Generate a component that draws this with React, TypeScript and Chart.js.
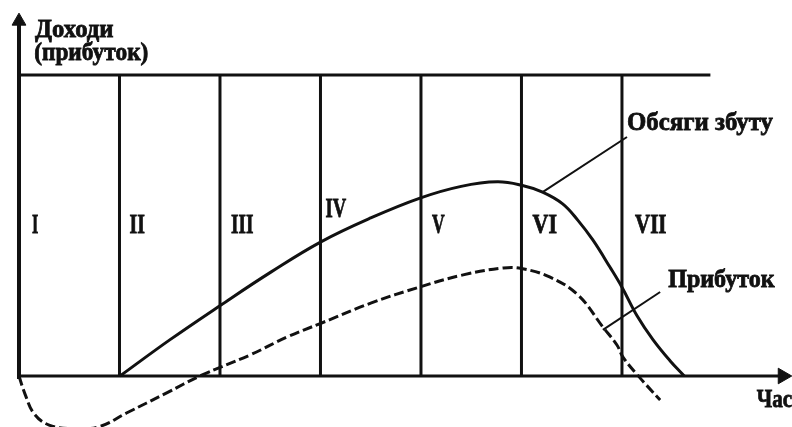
import React, { useEffect, useRef } from "react";
import { Chart, registerables } from "chart.js";

Chart.register(...registerables);

// ---- data (x in life-cycle periods, y in % of top level) ----
const periodBoundaries = [1, 2, 3, 4, 5, 6];
const periodLabels = ["I", "II", "III", "IV", "V", "VI", "VII"];

const salesX = [1.005, 1.5, 2.01, 2.51, 3.0, 3.5, 3.99, 4.4, 4.76, 5.01, 5.21, 5.41, 5.56, 5.71, 5.88, 6.0, 6.15, 6.31, 6.48, 6.62];
const salesY = [0, 12.0, 23.6, 34.6, 44.5, 52.5, 59.1, 63.0, 64.5, 63.3, 61.1, 57.2, 51.8, 45.2, 36.2, 29.5, 20.0, 12.0, 5.0, 0];

const profitX = [0, 0.06, 0.15, 0.3, 0.55, 0.8, 1.07, 1.47, 1.8, 2.3, 2.67, 3.01, 3.5, 3.99, 4.42, 4.82, 5.0, 5.28, 5.56, 5.81, 5.95, 6.01, 6.15, 6.38];
const profitY = [0, -6.0, -12.5, -16.3, -17.5, -16.8, -12.3, -5.6, 0, 7.0, 13.0, 17.6, 24.2, 29.6, 33.6, 35.9, 35.7, 32.9, 27.0, 16.3, 10.3, 6.3, 0.5, -8.0];

const topLevel = 100;
const topLineEnd = 6.88;
const xAxisEnd = 7.6;
const yAxisEnd = 117.9;

const salesLeaderX = [5.21, 6.05];
const salesLeaderY = [61.1, 79.4];
const profitLeaderX = [5.81, 6.38];
const profitLeaderY = [15.3, 27.9];

const yAxisTitle = ["Доходи", "(прибуток)"];
const salesLabel = "Обсяги збуту";
const profitLabel = "Прибуток";
const xAxisTitle = "Час";

// ---- annotation placement (data coords, left/baseline; width in px) ----
const numeralPlacement = [
  { x: 0.13, y: 47.5, w: 6 },
  { x: 1.1, y: 47.5, w: 15 },
  { x: 2.11, y: 47.5, w: 22 },
  { x: 3.05, y: 52.8, w: 21 },
  { x: 4.11, y: 47.5, w: 13 },
  { x: 5.11, y: 47.5, w: 24 },
  { x: 6.13, y: 47.5, w: 31 },
];

const INK = "#111111";

export default function App() {
  const ref = useRef<HTMLCanvasElement | null>(null);

  useEffect(() => {
    document.body.style.margin = "0";
    const canvas = ref.current;
    if (!canvas) return;

    const pts = (xs: number[], ys: number[]) => xs.map((v, i) => ({ x: v, y: ys[i] }));

    const lineDs = (data: any[], width: number, extra: any = {}) => ({
      data,
      showLine: true,
      borderColor: INK,
      borderWidth: width,
      pointRadius: 0,
      pointHoverRadius: 0,
      fill: false,
      tension: 0,
      borderCapStyle: "butt",
      ...extra,
    });

    const datasets: any[] = [];
    // y axis and x axis
    datasets.push(lineDs([{ x: 0, y: -1 }, { x: 0, y: yAxisEnd }], 4));
    datasets.push(lineDs([{ x: 0, y: 0 }, { x: xAxisEnd, y: 0 }], 3));
    // top line
    datasets.push(lineDs([{ x: 0, y: topLevel }, { x: topLineEnd, y: topLevel }], 3));
    // period boundaries
    periodBoundaries.forEach((b) => {
      datasets.push(lineDs([{ x: b, y: 0 }, { x: b, y: topLevel }], 3));
    });
    // curves
    datasets.push(lineDs(pts(salesX, salesY), 3, { tension: 0.4 }));
    datasets.push(lineDs(pts(profitX, profitY), 3, { tension: 0.4, borderDash: [10, 4] }));
    // leader lines
    datasets.push(lineDs(pts(salesLeaderX, salesLeaderY), 2));
    datasets.push(lineDs(pts(profitLeaderX, profitLeaderY), 2));
    // arrowheads
    datasets.push({
      data: [{ x: 0, y: yAxisEnd }],
      showLine: false,
      pointStyle: "triangle",
      pointRadius: 8,
      pointHoverRadius: 8,
      rotation: 0,
      pointBackgroundColor: INK,
      pointBorderColor: INK,
      pointBorderWidth: 1,
    });
    datasets.push({
      data: [{ x: xAxisEnd, y: 0 }],
      showLine: false,
      pointStyle: "triangle",
      pointRadius: 9,
      pointHoverRadius: 9,
      rotation: 90,
      pointBackgroundColor: INK,
      pointBorderColor: INK,
      pointBorderWidth: 1,
    });

    const texts = [
      ...periodLabels.map((t, i) => ({ text: t, x: numeralPlacement[i].x, y: numeralPlacement[i].y, w: numeralPlacement[i].w, size: 27 })),
      { text: yAxisTitle[0], x: 0.16, y: 112.6, w: 78, size: 25 },
      { text: yAxisTitle[1], x: 0.16, y: 105.0, w: 113, size: 25 },
      { text: salesLabel, x: 6.06, y: 81.7, w: 145, size: 26 },
      { text: profitLabel, x: 6.46, y: 29.6, w: 107, size: 25 },
      { text: xAxisTitle, x: 7.34, y: -10.3, w: 35, size: 26 },
    ];

    const textPlugin = {
      id: "texts",
      afterDatasetsDraw(chart: any) {
        const { ctx, scales } = chart;
        ctx.save();
        ctx.fillStyle = INK;
        ctx.strokeStyle = INK;
        ctx.lineWidth = 0.8;
        ctx.textAlign = "left";
        ctx.textBaseline = "alphabetic";
        for (const t of texts) {
          ctx.font = `bold ${t.size}px "Liberation Serif"`;
          const m = ctx.measureText(t.text);
          const ink = m.actualBoundingBoxLeft + m.actualBoundingBoxRight;
          const sx = t.w / ink;
          const px = scales.x.getPixelForValue(t.x);
          const py = scales.y.getPixelForValue(t.y);
          ctx.save();
          ctx.translate(px, py);
          ctx.scale(sx, 1);
          ctx.fillText(t.text, m.actualBoundingBoxLeft, 0);
          ctx.strokeText(t.text, m.actualBoundingBoxLeft, 0);
          ctx.restore();
        }
        ctx.restore();
      },
    };

    const chart = new Chart(canvas, {
      type: "scatter",
      data: { datasets },
      options: {
        animation: false,
        responsive: false,
        maintainAspectRatio: false,
        layout: { padding: 0, autoPadding: false },
        plugins: { legend: { display: false }, tooltip: { enabled: false } },
        scales: {
          x: { type: "linear", display: false, min: -0.189, max: 7.692 },
          y: { type: "linear", display: false, min: -16.94, max: 124.92 },
        },
      },
      plugins: [textPlugin],
    } as any);

    return () => chart.destroy();
  }, []);

  return (
    <div style={{ width: 792, height: 427, background: "#fff" }}>
      <canvas ref={ref} width={792} height={427} style={{ display: "block" }} />
    </div>
  );
}
